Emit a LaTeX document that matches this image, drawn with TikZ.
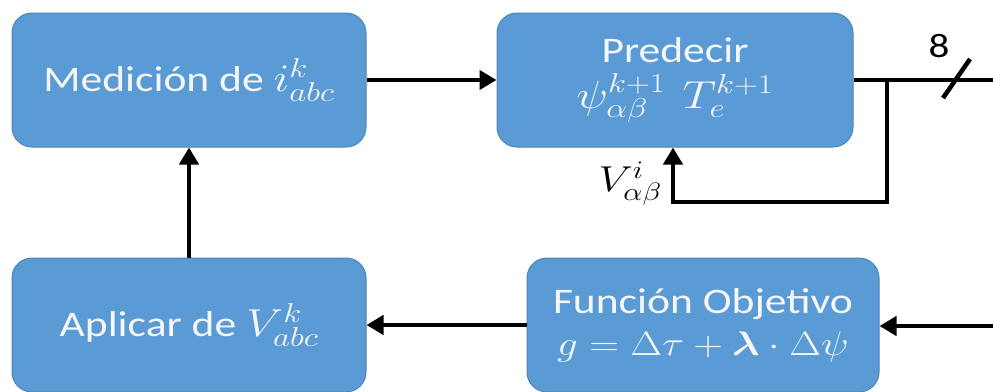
\RequirePackage{fix-cm}
\documentclass[tikz,border=0pt]{standalone}
\usepackage[no-math]{fontspec}
\setmainfont{Carlito}
\usepackage{amsmath,bm,graphicx}
\usetikzlibrary{arrows.meta}
\definecolor{boxfill}{HTML}{5B9BD5}
\definecolor{boxline}{HTML}{4A84BC}
\definecolor{boxtext}{HTML}{F4F6F8}
\newcommand{\mth}[2]{{\fontsize{#1}{#1}\selectfont$#2$}}
\newcommand{\wide}[1]{\scalebox{1.21}[1]{#1}}
\tikzset{
  blk/.style={rectangle, rounded corners=20pt, fill=boxfill, draw=boxline, line width=1pt,
    text=boxtext, align=center, inner sep=0pt, minimum height=134pt,
    font=\fontsize{36}{42}\selectfont},
  conn/.style={line width=4.5pt, draw=black},
  arr/.style={conn, -{Triangle[length=17pt,width=19pt]}},
  lbl/.style={font=\fontsize{34}{38}\selectfont, text=black, inner sep=0pt}
}
\begin{document}
\begin{tikzpicture}[x=1pt,y=-1pt]
\useasboundingbox (0,0) rectangle (993,391);
\node[blk, minimum width=354pt] (med) at (189,80) {\wide{Medición de \mth{39}{i_{abc}^{k}}}};
\node[blk, minimum width=356pt] (pred) at (675,80) {\wide{Predecir}\\[4pt]\wide{\mth{39}{\psi_{\alpha\beta}^{k+1}\hspace{14pt}T_{e}^{k+1}}}};
\node[blk, minimum width=354pt] (apl) at (189,325) {\wide{Aplicar de \mth{39}{V_{abc}^{k}}}};
\node[blk, minimum width=352pt] (fun) at (703,325) {\wide{Función Objetivo}\\[0pt]\wide{\mth{34}{g=\Delta\tau+\bm{\lambda}\cdot\Delta\psi}}};

\coordinate (out) at (993,80);
\coordinate (br) at (887,80);
\coordinate (fbl) at (673,202);
\coordinate (in) at (993,326);
\coordinate (s1) at (943,98);
\coordinate (s2) at (970,59);

\draw[arr] (med.east) -- (pred.west);
\draw[conn] (pred.east) -- (out);
\draw[arr] (br) |- (fbl) -- (fbl |- pred.south);
\draw[conn] (s1) -- (s2);
\node[lbl] (eight) at (939,46) {\wide{8}};
\node[lbl, anchor=east] (vlab) at (662,184) {\wide{\mth{36}{V_{\alpha\beta}^{i}}}};
\draw[arr] (in) -- (in -| fun.east);
\draw[arr] (fun.west) -- (apl.east);
\draw[arr] (apl.north) -- (med.south);
\end{tikzpicture}
\end{document}
